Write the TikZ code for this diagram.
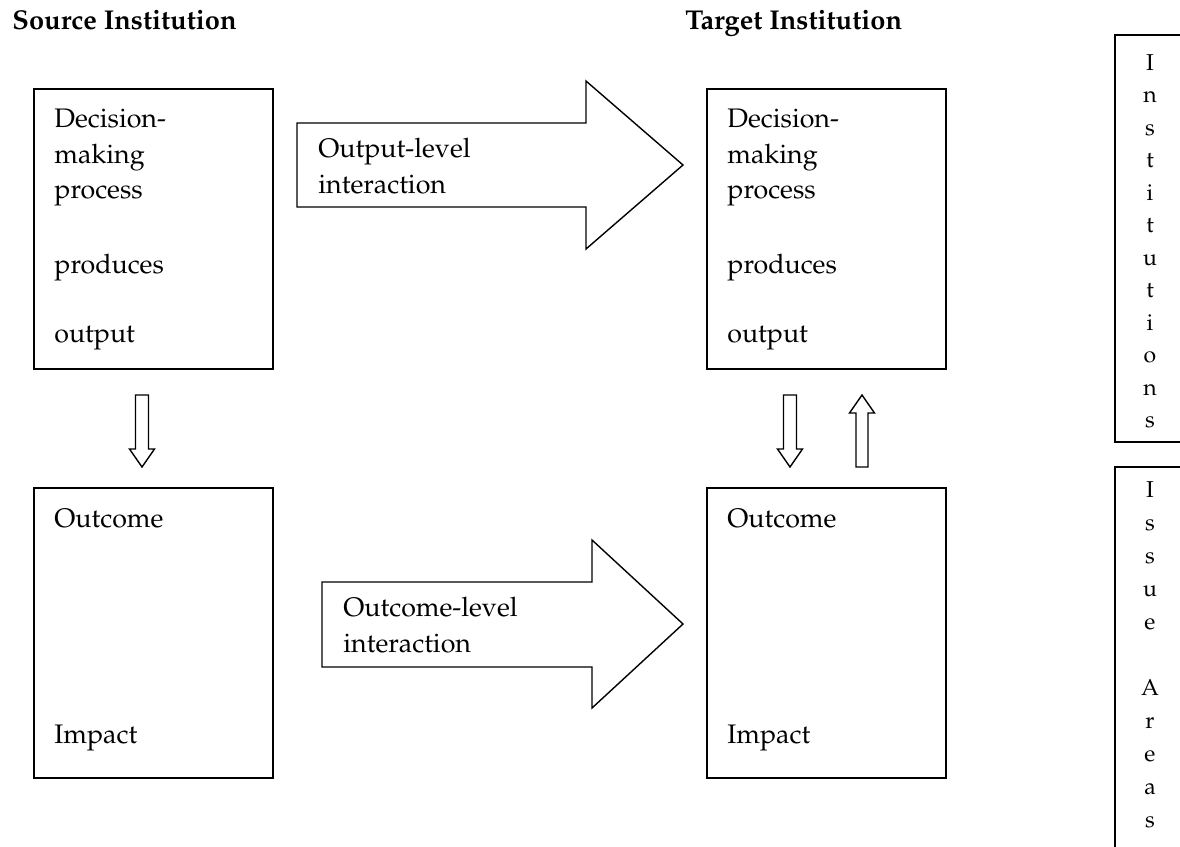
\documentclass[tikz,border=0pt]{standalone}
\usepackage[T1]{fontenc}
\usepackage{mathpazo}
\usepackage{tikz}

\begin{document}
\begin{tikzpicture}[x=0.5pt,y=-0.5pt,
  box/.style = {draw, line width=0.9pt, minimum width=119.5pt, inner sep=0pt},
  side/.style = {draw, line width=0.9pt, minimum width=50pt, inner sep=0pt},
  blk/.style = {draw, line width=0.7pt, line join=miter},
  txt/.style = {anchor=base west, inner sep=0pt, font=\fontsize{13.4pt}{16pt}\selectfont},
  head/.style = {txt, font=\fontsize{13.6pt}{16pt}\selectfont\bfseries},
  vl/.style = {anchor=base, inner sep=0pt, font=\fontsize{11.5pt}{14pt}\selectfont}]
\useasboundingbox (0,0) rectangle (1180,847);
\clip (0,0) rectangle (1180,847);

% headings
\node[head] (srchead) at (12,29) {Source Institution};
\node[head] (tgthead) at (685,29) {Target Institution};

% the four boxes
\node[box, minimum height=140pt] (srcdec) at (153.5,229) {};
\node[box, minimum height=145pt] (srcout) at (153.5,633) {};
\node[box, minimum height=140pt] (tgtdec) at (826.5,229) {};
\node[box, minimum height=145pt] (tgtout) at (826.5,633) {};

\foreach \t/\y in {Decision-/127, making/163, process/198, produces/273, output/342} {
  \node[txt] (src\y) at (54,\y) {\t};
  \node[txt] (tgt\y) at (727,\y) {\t};
}
\node[txt] (srcoc) at (54,527) {Outcome};
\node[txt] (srcim) at (54,743) {Impact};
\node[txt] (tgtoc) at (727,527) {Outcome};
\node[txt] (tgtim) at (727,743) {Impact};

% block arrows between the institutions
\draw[blk] (297,123) -- (586,123) -- (586,81) -- (683,165) -- (586,249) -- (586,207) -- (297,207) -- cycle;
\node[txt] (outl1) at (318,157) {Output-level};
\node[txt] (outl2) at (318,193) {interaction};

\draw[blk] (322,582) -- (592,582) -- (592,540) -- (683,624) -- (592,708) -- (592,667) -- (322,667) -- cycle;
\node[txt] (ocl1) at (343,616) {Outcome-level};
\node[txt] (ocl2) at (343,652) {interaction};

% small arrows
\foreach \x in {142,790}
  \draw[blk] (\x-6.5,395) -- (\x+6.5,395) -- (\x+6.5,449) -- (\x+12.5,449) -- (\x,467)
    -- (\x-12.5,449) -- (\x-6.5,449) -- cycle;
\draw[blk] (856,467) -- (868,467) -- (868,413) -- (874.5,413) -- (862,395)
  -- (849.5,413) -- (856,413) -- cycle;

% side boxes
\node[side, minimum height=203.5pt] (inst) at (1165,238.5) {};
\node[side, minimum height=216.5pt] (issue) at (1165,683.5) {};
\foreach \l [count=\i] in {I,n,s,t,i,t,u,t,i,o,n,s}
  \node[vl] (inst\i) at (1150,{70+32.5*(\i-1)}) {\l};
\foreach \l [count=\i] in {I,s,s,u,e,{},A,r,e,a,s}
  \node[vl] (issue\i) at (1150,{497+33.05*(\i-1)}) {\l};
\end{tikzpicture}
\end{document}
